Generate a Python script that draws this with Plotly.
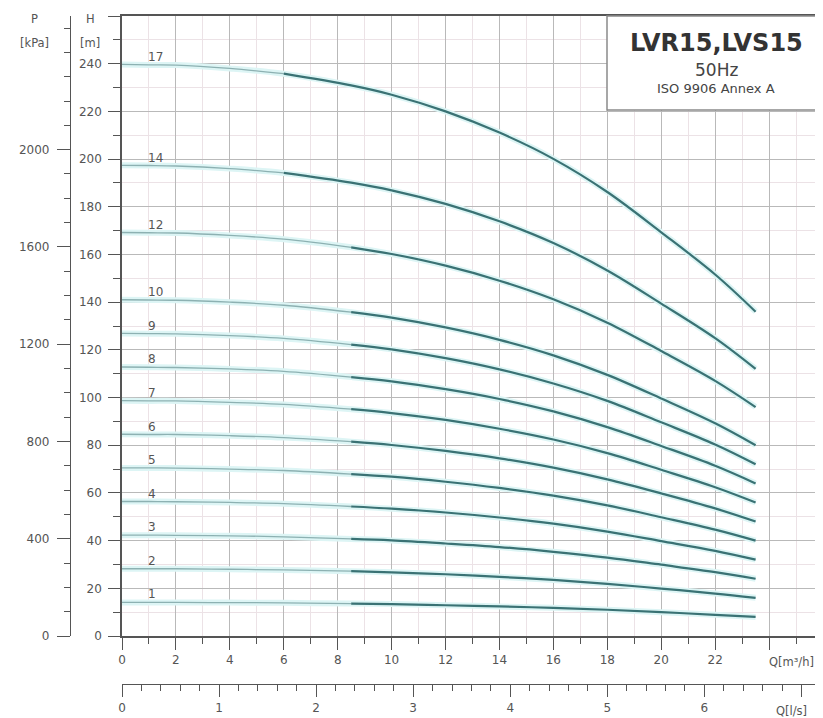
import plotly.graph_objects as go

# ---------------- data ----------------
Q = [0, 1, 2, 4, 6, 8.5, 10, 12, 14, 16, 18, 20, 22, 23.5]  # m3/h

stage_names = ["1", "2", "3", "4", "5", "6", "7", "8", "9", "10", "12", "14", "17"]

H_1 = [14.1, 14.1, 14.1, 14.0, 13.9, 13.6, 13.4, 12.9, 12.4, 11.8, 11.0, 10.0, 8.9, 8.0]
H_2 = [28.2, 28.2, 28.2, 28.0, 27.7, 27.2, 26.7, 25.9, 24.8, 23.5, 21.9, 19.9, 17.8, 16.0]
H_3 = [42.3, 42.3, 42.2, 42.0, 41.6, 40.7, 40.1, 38.8, 37.3, 35.3, 32.9, 29.9, 26.8, 24.0]
H_4 = [56.4, 56.4, 56.3, 56.0, 55.5, 54.3, 53.4, 51.8, 49.7, 47.1, 43.8, 39.8, 35.7, 32.0]
H_5 = [70.5, 70.5, 70.4, 70.0, 69.4, 67.9, 66.8, 64.7, 62.1, 58.9, 54.8, 49.8, 44.6, 40.0]
H_6 = [84.6, 84.5, 84.5, 84.0, 83.2, 81.5, 80.1, 77.6, 74.5, 70.6, 65.7, 59.8, 53.5, 48.0]
H_7 = [98.7, 98.6, 98.6, 98.0, 97.1, 95.1, 93.5, 90.6, 86.9, 82.4, 76.7, 69.7, 62.4, 56.0]
H_8 = [112.8, 112.7, 112.6, 112.0, 111.0, 108.6, 106.8, 103.5, 99.4, 94.2, 87.6, 79.7, 71.4, 64.0]
H_9 = [126.9, 126.8, 126.7, 126.0, 124.8, 122.2, 120.2, 116.5, 111.8, 105.9, 98.6, 89.6, 80.3, 72.0]
H_10 = [141.0, 140.9, 140.8, 140.0, 138.7, 135.8, 133.5, 129.4, 124.2, 117.7, 109.5, 99.6, 89.2, 80.0]
H_12 = [169.2, 169.1, 169.0, 168.0, 166.4, 163.0, 160.2, 155.3, 149.0, 141.2, 131.4, 119.5, 107.0, 96.0]
H_14 = [197.4, 197.3, 197.1, 196.0, 194.2, 190.1, 186.9, 181.2, 173.9, 164.8, 153.3, 139.4, 124.9, 112.0]
H_17 = [239.7, 239.5, 239.4, 238.0, 235.8, 230.9, 227.0, 220.0, 211.1, 200.1, 186.2, 169.3, 151.6, 136.0]

curves = [H_1, H_2, H_3, H_4, H_5, H_6, H_7, H_8, H_9, H_10, H_12, H_14, H_17]
# index in Q where the working (thick) range of each curve begins
work_start = [5, 5, 5, 5, 5, 5, 5, 5, 5, 5, 5, 4, 4]

q_m3h_ticks = [0, 2, 4, 6, 8, 10, 12, 14, 16, 18, 20, 22, 24, 26]
q_m3h_text = ["0", "2", "4", "6", "8", "10", "12", "14", "16", "18", "20", "22", "", ""]
q_ls_ticks = [0, 1, 2, 3, 4, 5, 6, 7]
q_ls_text = ["0", "1", "2", "3", "4", "5", "6", ""]
h_ticks = [0, 20, 40, 60, 80, 100, 120, 140, 160, 180, 200, 220, 240, 260]
h_text = ["0", "20", "40", "60", "80", "100", "120", "140", "160", "180", "200", "220", "240", ""]
p_ticks = [0, 400, 800, 1200, 1600, 2000]

Q_MAX = 26
H_MAX = 260
KPA_PER_M = 9.80665
M3H_PER_LS = 3.6

# ---------------- layout constants (page pixels) ----------------
OFF = 8                # default page body margin
W, HGT = 823 - OFF, 718 - OFF
X0, XR = 122, 823      # plot left/right px on page
YT, YB = 16, 636       # plot top/bottom px on page

FONT = "DejaVu Sans"
TXT = "#555555"
AX = "#555555"
MAJ = "#b9b9b9"
MIN = "#ece2e6"


def px(x):
    return (x - OFF) / W


def py(y):
    return 1 - (y - OFF) / HGT


fig = go.Figure()

# halos
for h in curves:
    fig.add_trace(go.Scatter(x=Q, y=h, mode="lines",
                             line=dict(color="#ddf5f5", width=6, shape="spline", smoothing=1),
                             hoverinfo="skip", showlegend=False))
# thin part
for h, s in zip(curves, work_start):
    fig.add_trace(go.Scatter(x=Q[:s + 1], y=h[:s + 1], mode="lines",
                             line=dict(color="#8db1b2", width=1.3, shape="spline", smoothing=1),
                             hoverinfo="skip", showlegend=False))
# thick working part
for h, s, name in zip(curves, work_start, stage_names):
    fig.add_trace(go.Scatter(x=Q[s:], y=h[s:], mode="lines", name=name,
                             line=dict(color="#3a7274", width=2.2, shape="spline", smoothing=1),
                             showlegend=False))

# invisible trace that carries the secondary scales (kPa and l/s)
fig.add_trace(go.Scatter(x=[q / M3H_PER_LS for q in Q], y=[h * KPA_PER_M for h in H_17],
                         xaxis="x2", yaxis="y2", mode="lines", opacity=0,
                         line=dict(width=0), hoverinfo="skip", showlegend=False))

# curve labels
for h, name in zip(curves, stage_names):
    fig.add_annotation(x=Q[1], y=h[1], xref="x", yref="y", text=name, showarrow=False,
                       xanchor="left", yanchor="middle", xshift=-3, yshift=8,
                       font=dict(family=FONT, size=12, color=TXT))

tickfont = dict(family=FONT, size=12, color=TXT)

fig.update_layout(
    width=W, height=HGT,
    margin=dict(l=0, r=0, t=0, b=0),
    paper_bgcolor="white", plot_bgcolor="white",
    showlegend=False,
    xaxis=dict(
        domain=[px(X0), px(XR)], range=[0, Q_MAX], autorange=False,
        tickmode="array", tickvals=q_m3h_ticks, ticktext=q_m3h_text,
        ticks="outside", ticklen=12, tickcolor=AX, tickwidth=1,
        showline=True, linecolor=AX, linewidth=1.5, mirror=True,
        showgrid=True, gridcolor=MAJ, gridwidth=1, zeroline=False,
        minor=dict(dtick=1, tick0=0, ticks="outside", ticklen=6, tickcolor=AX,
                   showgrid=True, gridcolor=MIN, gridwidth=1),
        tickfont=tickfont, automargin=False,
    ),
    yaxis=dict(
        domain=[py(YB), py(YT)], range=[0, H_MAX], autorange=False,
        tickmode="array", tickvals=h_ticks, ticktext=h_text,
        ticks="outside", ticklen=12, tickcolor=AX, tickwidth=1,
        showline=True, linecolor=AX, linewidth=1.5,
        showgrid=True, gridcolor=MAJ, gridwidth=1, zeroline=False,
        minor=dict(dtick=10, tick0=0, ticks="outside", ticklen=7, tickcolor=AX,
                   showgrid=True, gridcolor=MIN, gridwidth=1),
        tickfont=tickfont, automargin=False, ticklabelstandoff=4,
    ),
    xaxis2=dict(
        overlaying="x", anchor="free", position=py(684), side="bottom",
        domain=[px(X0), px(XR)], range=[0, Q_MAX / M3H_PER_LS], autorange=False,
        tickmode="array", tickvals=q_ls_ticks, ticktext=q_ls_text,
        ticks="outside", ticklen=12, tickcolor=AX, tickwidth=1,
        showline=True, linecolor=AX, linewidth=1.2,
        showgrid=False, zeroline=False,
        minor=dict(dtick=0.2, tick0=0, ticks="outside", ticklen=6, tickcolor=AX, showgrid=False),
        tickfont=tickfont, automargin=False,
    ),
    yaxis2=dict(
        overlaying="y", anchor="free", position=px(70), side="left",
        domain=[py(YB), py(YT)], range=[0, H_MAX * KPA_PER_M], autorange=False,
        tickmode="array", tickvals=p_ticks,
        ticks="outside", ticklen=13, tickcolor=AX, tickwidth=1,
        showline=True, linecolor=AX, linewidth=1.2,
        showgrid=False, zeroline=False,
        minor=dict(dtick=100, tick0=0, ticks="outside", ticklen=6, tickcolor=AX, showgrid=False),
        tickfont=tickfont, automargin=False, ticklabelstandoff=5,
    ),
)

# axis titles
for text, x, y in [("P", 34, 19), ("[kPa]", 34, 43), ("H", 90, 19), ("[m]", 90, 43),
                   ("Q[m³/h]", 791, 662), ("Q[l/s]", 791, 711)]:
    fig.add_annotation(x=px(x), y=py(y), xref="paper", yref="paper", text=text, showarrow=False,
                       xanchor="center", yanchor="middle", font=dict(family=FONT, size=11.5, color=TXT))

# info box
fig.add_shape(type="rect", xref="paper", yref="paper", x0=px(607), x1=px(822), y0=py(110), y1=py(YT),
              fillcolor="white", line=dict(color="#8a8a8a", width=1.5), layer="above")
for text, y, size, color in [("<b>LVR15,LVS15</b>", 43, 24, "#333333"),
                             ("50Hz", 70, 17, "#444444"),
                             ("ISO 9906 Annex A", 89, 13, "#444444")]:
    fig.add_annotation(x=px(716), y=py(y), xref="paper", yref="paper", text=text, showarrow=False,
                       xanchor="center", yanchor="middle", font=dict(family=FONT, size=size, color=color))

fig.write_html("out.html")
